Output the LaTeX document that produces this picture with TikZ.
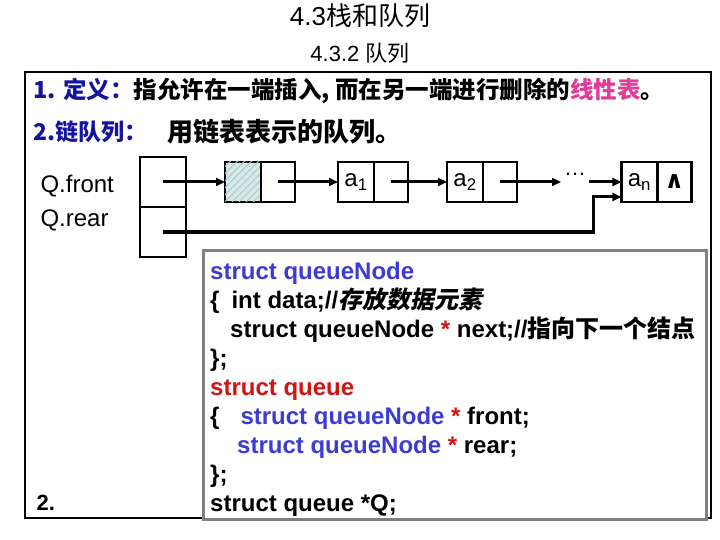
\documentclass[tikz,border=0pt]{standalone}
\usepackage{fontspec}
\setmainfont{Liberation Sans}
\newfontfamily\cjk{Noto Sans CJK SC}
\newfontfamily\cjksl[FakeSlant=0.2]{Noto Sans CJK SC}
\newfontfamily\symf{DejaVu Sans}
\usetikzlibrary{arrows.meta, positioning, patterns.meta}
\definecolor{headblue}{RGB}{20,20,160}
\definecolor{termpink}{RGB}{225,60,150}
\definecolor{codeblue}{RGB}{60,60,210}
\definecolor{codered}{RGB}{210,20,20}
\definecolor{framegray}{RGB}{128,128,128}
\definecolor{hatchbg}{RGB}{215,232,232}
\definecolor{hatchline}{RGB}{170,200,200}
\tikzset{
  cell/.style={rectangle, draw, line width=2.8pt, minimum height=40pt,
               inner sep=0pt, outer sep=0pt, font=\fontsize{24}{26}\selectfont},
  datacell/.style={cell, minimum width=36pt},
  ptrcell/.style={cell, minimum width=34pt},
  qcell/.style={rectangle, draw, line width=2.8pt, minimum width=46pt,
                minimum height=50pt, outer sep=0pt},
  link/.style={-{Triangle[length=9pt,width=8pt]}, line width=3pt},
  hatched/.style={fill=hatchbg, postaction={pattern={Lines[angle=45,distance=5pt,line width=0.9pt]},
                  pattern color=hatchline}},
  codebox/.style={rectangle, draw=framegray, line width=3pt, fill=white,
                  inner sep=0pt, outer sep=0pt}
}
\begin{document}
\begin{tikzpicture}[x=1pt, y=-1pt, node distance=0pt]
  \useasboundingbox (0,0) rectangle (720,540);
  % headings
  \node[anchor=base, font=\fontsize{26}{28}\selectfont] (title) at (360,26) {4.3{\cjk 栈和队列}};
  \node[anchor=base, font=\fontsize{22}{24}\selectfont] (subtitle) at (360,62) {4.3.2 {\cjk 队列}};
  \draw[line width=1.2pt] (25,72) rectangle (711,518);

  \node[anchor=base west, font=\cjk\bfseries\fontsize{23.5}{26}\selectfont] (def) at (30,99)
    {\textcolor{headblue}{1. 定义：}指允许在一端插入, 而在另一端进行删除的\textcolor{termpink}{线性表}。};
  \node[anchor=base west, font=\cjk\bfseries\fontsize{23}{26}\selectfont] (linked) at (30,141)
    {\textcolor{headblue}{2.链队列：}};
  \node[anchor=base west, font=\cjk\bfseries\fontsize{26}{28}\selectfont] (linkdesc) at (164,142)
    {用链表表示的队列。};

  % queue pointers
  \node[anchor=base west, font=\fontsize{24}{26}\selectfont] (qfl) at (37,193) {Q.front};
  \node[anchor=base west, font=\fontsize{24}{26}\selectfont] (qrl) at (37,226) {Q.rear};
  \node[qcell] (qf) at (163,182) {};
  \node[qcell, below=of qf] (qr) {};

  % linked nodes
  \node[datacell, hatched] (h-d) at (243,182) {};
  \node[ptrcell, right=of h-d] (h-p) {};
  \node[datacell, right=43pt of h-p] (a1-d) {a\textsubscript{1}};
  \node[ptrcell, right=of a1-d] (a1-p) {};
  \node[datacell, right=39pt of a1-p] (a2-d) {a\textsubscript{2}};
  \node[ptrcell, right=of a2-d] (a2-p) {};
  \node[inner sep=0pt, minimum width=28pt, right=44pt of a2-p,
        font=\fontsize{22}{24}\selectfont] (dots) {\raisebox{16pt}{…}};
  \node[datacell, right=32pt of dots] (an-d) {a\textsubscript{n}};
  \node[ptrcell, right=of an-d] (an-p) {\symf\bfseries\fontsize{24}{24}\selectfont ∧};

  \draw[link] (qf.center) -- (h-d);
  \draw[link] (h-p.center) -- (a1-d);
  \draw[link] (a1-p.center) -- (a2-d);
  \draw[link] (a2-p.center) -- (dots.west);
  \draw[link] (dots.east) -- (an-d);
  \coordinate (bend) at (593,197);
  \draw[link] (qr.center) -| (bend) -- (bend -| an-d.west);

  % declarations
  \node[codebox, anchor=north west, minimum width=503pt, minimum height=269pt] (code) at (203,250) {};
  \node[anchor=north west, align=left, inner sep=0pt,
        font=\bfseries\fontsize{24}{29}\selectfont] (codetext) at (210,262) {%
    \textcolor{codeblue}{struct queueNode}\\
    \{\hspace*{12pt}int data;//{\cjksl 存放数据元素}\\
    \hspace*{20pt}struct queueNode \textcolor{codered}{*} next;//{\cjk 指向下一个结点}\\
    \};\\
    \textcolor{codered}{struct queue}\\
    \{\hspace*{21pt}\textcolor{codeblue}{struct queueNode} \textcolor{codered}{*} front;\\
    \hspace*{27pt}\textcolor{codeblue}{struct queueNode} \textcolor{codered}{*} rear;\\
    \};\\
    struct queue *Q;};
  \node[anchor=base west, font=\bfseries\fontsize{22}{24}\selectfont] (num) at (33,510) {2.};
\end{tikzpicture}
\end{document}
